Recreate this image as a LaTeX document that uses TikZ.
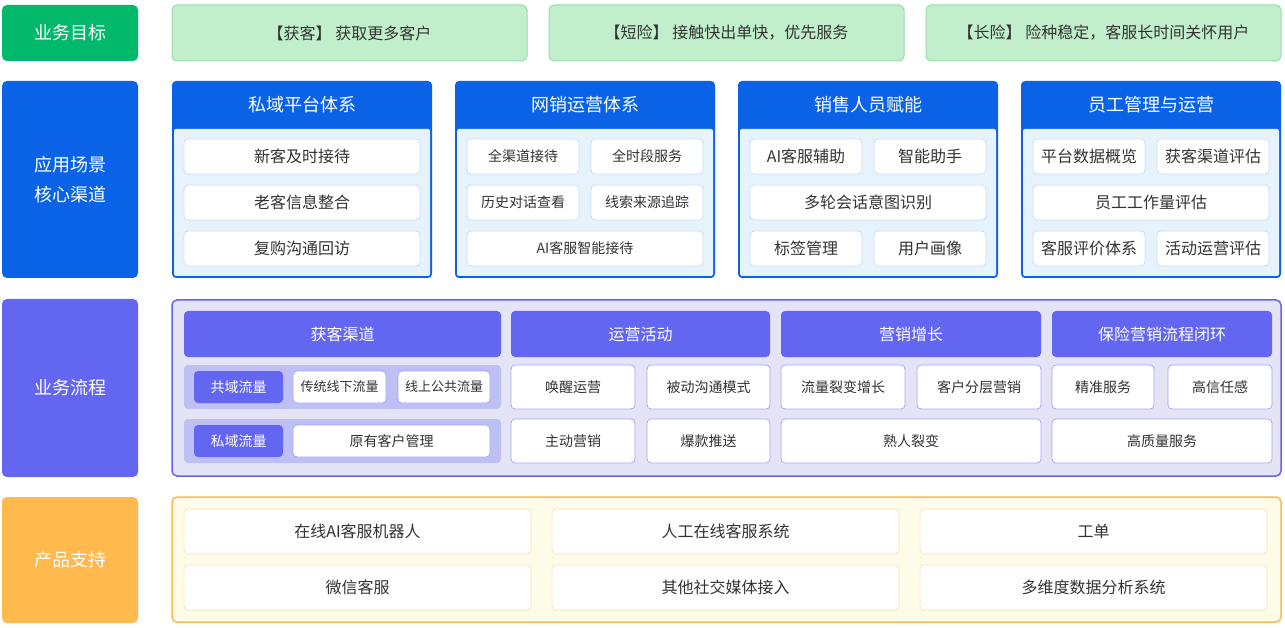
\documentclass[tikz,border=0pt]{standalone}
\usepackage{fontspec}
\setmainfont{Noto Sans CJK SC}
\definecolor{goalgreen}{RGB}{0,185,107}
\definecolor{goallight}{RGB}{193,239,203}
\definecolor{goalline}{RGB}{150,222,170}
\definecolor{coreblue}{RGB}{10,99,231}
\definecolor{bodyblue}{RGB}{230,243,253}
\definecolor{itemblue}{RGB}{200,222,250}
\definecolor{flowpurple}{RGB}{99,102,240}
\definecolor{flowbg}{RGB}{228,228,246}
\definecolor{flowsub}{RGB}{190,191,245}
\definecolor{flowline}{RGB}{165,167,246}
\definecolor{prodorange}{RGB}{255,185,76}
\definecolor{prodbg}{RGB}{254,252,232}
\definecolor{prodline}{RGB}{252,226,180}
\definecolor{textdark}{RGB}{51,51,51}
\newcommand{\fsz}[2]{\fontsize{#1}{#2}\selectfont}
\tikzstyle{every node}=[inner sep=0pt, outer sep=0pt, align=center]
\tikzstyle{tag}=[rounded corners=5pt, text=white, minimum width=136pt, font=\fsz{18}{30}]
\tikzstyle{goalbox}=[rounded corners=5pt, fill=goallight, draw=goalline, line width=1pt, minimum width=355pt, minimum height=56pt, text=textdark, font=\fsz{16}{20}]
\tikzstyle{panel}=[rounded corners=4pt, fill=coreblue, minimum width=260pt, minimum height=197pt]
\tikzstyle{panelbody}=[rounded corners=2pt, fill=bodyblue, minimum width=256pt, minimum height=147pt]
\tikzstyle{panelhead}=[text=white, font=\fsz{18}{20}]
\tikzstyle{item}=[rounded corners=4pt, fill=white, draw=itemblue, line width=0.8pt, minimum height=35pt, text=textdark, font=\fsz{16}{20}]
\tikzstyle{flowhead}=[rounded corners=4pt, fill=flowpurple, minimum height=46pt, text=white, font=\fsz{16}{20}]
\tikzstyle{flowrow}=[rounded corners=4pt, fill=flowsub, minimum width=317pt, minimum height=44pt]
\tikzstyle{flowtag}=[rounded corners=4pt, fill=flowpurple, minimum width=89pt, minimum height=32pt, text=white, font=\fsz{14}{16}]
\tikzstyle{flowitem}=[rounded corners=4pt, fill=white, draw=flowline, line width=0.8pt, minimum height=44pt, text=textdark, font=\fsz{14}{16}]
\tikzstyle{subitem}=[rounded corners=4pt, fill=white, draw=flowline, line width=0.8pt, minimum height=32pt, text=textdark, font=\fsz{13}{16}]
\tikzstyle{proditem}=[rounded corners=4pt, fill=white, draw=prodline, line width=0.8pt, minimum width=347pt, minimum height=45pt, text=textdark, font=\fsz{16}{20}]
\begin{document}
\begin{tikzpicture}[x=1pt, y=-1pt]
\useasboundingbox[fill=white] (0,0) rectangle (1285,628);

% business goals
\node[tag, fill=goalgreen, minimum height=56pt] (goal) at (70,33) {业务目标};
\node[goalbox] (g1) at (349.5,33) {【获客】 获取更多客户};
\node[goalbox] (g2) at (726.5,33) {【短险】 接触快出单快，优先服务};
\node[goalbox] (g3) at (1103.5,33) {【长险】 险种稳定，客服长时间关怀用户};

% core channels
\node[tag, fill=coreblue, minimum height=197pt] (scene) at (70,179.5) {应用场景\\核心渠道};
\node[panel] (sys1) at (302,179.5) {};
\node[panelbody] (body1) at (302,202.5) {};
\node[panelhead] (hd1) at (302,105) {私域平台体系};
\node[item, minimum width=236pt] (s1a) at (302,156.5) {新客及时接待};
\node[item, minimum width=236pt] (s1b) at (302,202.5) {老客信息整合};
\node[item, minimum width=236pt] (s1c) at (302,248.5) {复购沟通回访};

\node[panel] (sys2) at (585,179.5) {};
\node[panelbody] (body2) at (585,202.5) {};
\node[panelhead] (hd2) at (585,105) {网销运营体系};
\node[item, minimum width=112pt, font=\fsz{14}{16}] (s2a) at (523,156.5) {全渠道接待};
\node[item, minimum width=112pt, font=\fsz{14}{16}] (s2b) at (647,156.5) {全时段服务};
\node[item, minimum width=112pt, font=\fsz{14}{16}] (s2c) at (523,202.5) {历史对话查看};
\node[item, minimum width=112pt, font=\fsz{14}{16}] (s2d) at (647,202.5) {线索来源追踪};
\node[item, minimum width=236pt, font=\fsz{14}{16}] (s2e) at (585,248.5) {AI客服智能接待};

\node[panel] (sys3) at (868,179.5) {};
\node[panelbody] (body3) at (868,202.5) {};
\node[panelhead] (hd3) at (868,105) {销售人员赋能};
\node[item, minimum width=112pt] (s3a) at (806,156.5) {AI客服辅助};
\node[item, minimum width=112pt] (s3b) at (930,156.5) {智能助手};
\node[item, minimum width=236pt] (s3c) at (868,202.5) {多轮会话意图识别};
\node[item, minimum width=112pt] (s3d) at (806,248.5) {标签管理};
\node[item, minimum width=112pt] (s3e) at (930,248.5) {用户画像};

\node[panel] (sys4) at (1151,179.5) {};
\node[panelbody] (body4) at (1151,202.5) {};
\node[panelhead] (hd4) at (1151,105) {员工管理与运营};
\node[item, minimum width=112pt] (s4a) at (1089,156.5) {平台数据概览};
\node[item, minimum width=112pt] (s4b) at (1213,156.5) {获客渠道评估};
\node[item, minimum width=236pt] (s4c) at (1151,202.5) {员工工作量评估};
\node[item, minimum width=112pt] (s4d) at (1089,248.5) {客服评价体系};
\node[item, minimum width=112pt] (s4e) at (1213,248.5) {活动运营评估};

% business flow
\node[tag, fill=flowpurple, minimum height=178pt] (flow) at (70,388) {业务流程};
\node[rounded corners=5pt, fill=flowbg, draw=flowpurple, line width=1.5pt, minimum width=1109pt, minimum height=176pt] (flowpanel) at (726.5,388) {};
\node[flowhead, minimum width=317pt] (f1) at (342.5,334) {获客渠道};
\node[flowhead, minimum width=259pt] (f2) at (640.5,334) {运营活动};
\node[flowhead, minimum width=260pt] (f3) at (911,334) {营销增长};
\node[flowhead, minimum width=220pt] (f4) at (1162,334) {保险营销流程闭环};

\node[flowrow] (pub) at (342.5,387) {};
\node[flowtag] (pubtag) at (238.5,387) {共域流量};
\node[subitem, minimum width=93pt] (pub1) at (339.5,387) {传统线下流量};
\node[subitem, minimum width=92pt] (pub2) at (444,387) {线上公共流量};
\node[flowrow] (pri) at (342.5,441) {};
\node[flowtag] (pritag) at (238.5,441) {私域流量};
\node[subitem, minimum width=197pt, font=\fsz{14}{16}] (pri1) at (391.5,441) {原有客户管理};

\node[flowitem, minimum width=124pt] (f2a) at (573,387) {唤醒运营};
\node[flowitem, minimum width=123pt] (f2b) at (708.5,387) {被动沟通模式};
\node[flowitem, minimum width=124pt] (f2c) at (573,441) {主动营销};
\node[flowitem, minimum width=123pt] (f2d) at (708.5,441) {爆款推送};
\node[flowitem, minimum width=124pt] (f3a) at (843,387) {流量裂变增长};
\node[flowitem, minimum width=124pt] (f3b) at (979,387) {客户分层营销};
\node[flowitem, minimum width=260pt] (f3c) at (911,441) {熟人裂变};
\node[flowitem, minimum width=102pt] (f4a) at (1103,387) {精准服务};
\node[flowitem, minimum width=104pt] (f4b) at (1220,387) {高信任感};
\node[flowitem, minimum width=220pt] (f4c) at (1162,441) {高质量服务};

% product support
\node[tag, fill=prodorange, minimum height=126pt] (prod) at (70,560) {产品支持};
\node[rounded corners=5pt, fill=prodbg, draw=prodorange, line width=1.5pt, minimum width=1109pt, minimum height=125pt] (prodpanel) at (726.5,559.5) {};
\node[proditem] (p1) at (357.5,531.5) {在线AI客服机器人};
\node[proditem] (p2) at (725.5,531.5) {人工在线客服系统};
\node[proditem] (p3) at (1093.5,531.5) {工单};
\node[proditem] (p4) at (357.5,587.5) {微信客服};
\node[proditem] (p5) at (725.5,587.5) {其他社交媒体接入};
\node[proditem] (p6) at (1093.5,587.5) {多维度数据分析系统};
\end{tikzpicture}
\end{document}
